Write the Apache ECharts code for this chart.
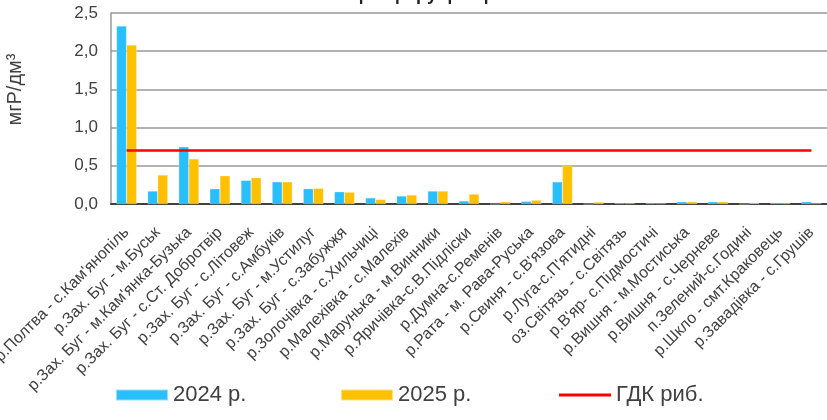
<!DOCTYPE html>
<html>
<head>
<meta charset="utf-8">
<script src="https://cdn.jsdelivr.net/npm/echarts@6/dist/echarts.min.js"></script>
<style>
html,body{margin:0;padding:0;background:#fff;}
#c{width:827px;height:420px;}
</style>
</head>
<body>
<div id="c"></div>
<script>
const categories = [
  "р.Полтва - с.Кам'янопіль",
  "р.Зах. Буг - м.Буськ",
  "р.Зах. Буг - м.Кам'янка-Бузька",
  "р.Зах. Буг - с.Ст. Добротвір",
  "р.Зах. Буг - с.Літовеж",
  "р.Зах. Буг - с.Амбуків",
  "р.Зах. Буг - м.Устилуг",
  "р.Зах. Буг - с.Забужжя",
  "р.Золочівка - с.Хильчиці",
  "р.Малехівка - с.Малехів",
  "р.Марунька - м.Винники",
  "р.Яричівка-с.В.Підліски",
  "р.Думна-с.Ременів",
  "р.Рата - м. Рава-Руська",
  "р.Свиня - с.В'язова",
  "р.Луга-с.П'ятидні",
  "оз.Світязь - с.Світязь",
  "р.В'яр- с.Підмостичі",
  "р.Вишня - м.Мостиська",
  "р.Вишня - с.Черневе",
  "п.Зелений-с.Годині",
  "р.Шкло - смт.Краковець",
  "р.Завадівка - с.Грушів"
];
const values2024 = [2.33, 0.17, 0.75, 0.20, 0.31, 0.29, 0.20, 0.16, 0.08, 0.105, 0.17, 0.04, 0, 0.035, 0.29, 0, 0.01, 0.01, 0.03, 0.03, 0, 0.012, 0.03];
const values2025 = [2.08, 0.38, 0.59, 0.37, 0.345, 0.29, 0.205, 0.155, 0.06, 0.118, 0.17, 0.13, 0.03, 0.05, 0.50, 0.025, 0.01, 0.008, 0.03, 0.03, 0.015, 0.012, 0.008];
const gdkValue = 0.7;
const gdkValues = categories.map(() => gdkValue);
const seriesNames = ["2024 р.", "2025 р.", "ГДК риб."];
const titleText = "Вміст фосфору фосфатів";
const yAxisName = "мгР/дм³";

const chart = echarts.init(document.getElementById('c'));
const font = "'Liberation Sans', Arial, sans-serif";
const legendText = {fontSize: 22, color: '#404040', fontFamily: font};
function oneLegend(name, left, icon) {
  return {
    data: [{name: name, icon: icon}], left: left, top: 384, padding: 0,
    itemWidth: 52, itemHeight: 11, itemGap: 0,
    textStyle: legendText
  };
}
chart.setOption({
  animation: false,
  backgroundColor: '#ffffff',
  title: {
    text: titleText,
    left: 'center',
    top: -19,
    textStyle: {fontSize: 18, fontWeight: 'bold', color: '#222', fontFamily: font}
  },
  grid: {left: 111, right: 0, top: 13, bottom: 216, containLabel: false, outerBoundsMode: 'none'},
  legend: [
    oneLegend(seriesNames[0], 115, 'rect'),
    oneLegend(seriesNames[1], 340, 'rect'),
    oneLegend(seriesNames[2], 559, 'path://M0,0L52,0L52,3L0,3Z')
  ],
  xAxis: {
    type: 'category',
    data: categories,
    boundaryGap: true,
    axisTick: {show: false},
    axisLine: {lineStyle: {color: '#404040', width: 2}},
    axisLabel: {interval: 0, rotate: 45, margin: 26, fontSize: 16, color: '#404040', fontFamily: font},
    splitLine: {show: false}
  },
  yAxis: {
    type: 'value',
    min: 0,
    max: 2.5,
    interval: 0.5,
    name: yAxisName,
    nameLocation: 'middle',
    nameRotate: 90,
    nameGap: 86,
    nameTextStyle: {fontSize: 20, color: '#404040', fontFamily: font, padding: [0, 0, 0, 38]},
    axisLine: {show: true, lineStyle: {color: '#999', width: 1.5}},
    axisTick: {show: false},
    axisLabel: {fontSize: 17, color: '#404040', fontFamily: font, margin: 13,
      formatter: v => v.toFixed(1).replace('.', ',')},
    splitLine: {show: true, lineStyle: {color: '#999', width: 1.5}}
  },
  series: [
    {
      name: seriesNames[0], type: 'bar', data: values2024,
      barGap: '0%', barCategoryGap: '35%',
      itemStyle: {color: '#29BEFC', borderColor: 'rgba(255,255,255,0.5)', borderWidth: 0.5}
    },
    {
      name: seriesNames[1], type: 'bar', data: values2025,
      barGap: '0%', barCategoryGap: '35%',
      itemStyle: {color: '#FFC000', borderColor: 'rgba(255,255,255,0.5)', borderWidth: 0.5}
    },
    {
      name: seriesNames[2], type: 'line', data: gdkValues,
      symbol: 'none',
      lineStyle: {color: '#FF0000', width: 2.5},
      itemStyle: {color: '#FF0000'}
    }
  ]
});
</script>
</body>
</html>
